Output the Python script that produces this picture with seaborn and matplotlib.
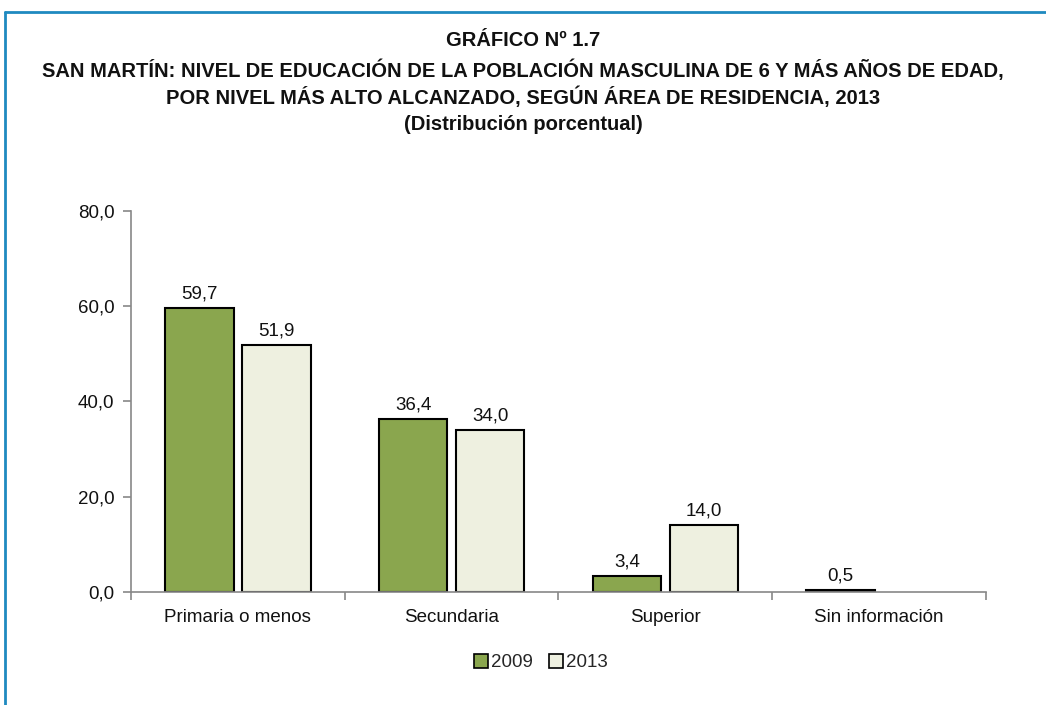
import numpy as np
import pandas as pd
import matplotlib
matplotlib.use("Agg")
import matplotlib.pyplot as plt
import seaborn as sns
from matplotlib import font_manager
from matplotlib.patches import Rectangle
from matplotlib.lines import Line2D

categories = ["Primaria o menos", "Secundaria", "Superior", "Sin información"]
years = ["2009", "2013"]
values_2009 = [59.7, 36.4, 3.4, 0.5]
values_2013 = [51.9, 34.0, 14.0, np.nan]
yticks = [0, 20, 40, 60, 80]

title_lines = [
    "GRÁFICO Nº 1.7",
    "SAN MARTÍN: NIVEL DE EDUCACIÓN DE LA POBLACIÓN MASCULINA DE 6 Y MÁS AÑOS DE EDAD,",
    "POR NIVEL MÁS ALTO ALCANZADO, SEGÚN ÁREA DE RESIDENCIA, 2013",
    "(Distribución porcentual)",
]

sns.set_theme(style="white")
names = {f.name for f in font_manager.fontManager.ttflist}
fam = "Liberation Sans Narrow" if "Liberation Sans Narrow" in names else "Liberation Sans"
plt.rcParams["font.family"] = [fam, "DejaVu Sans"]

df = pd.DataFrame({
    "cat": categories * 2,
    "year": [years[0]] * 4 + [years[1]] * 4,
    "val": values_2009 + values_2013,
})

fig = plt.figure(figsize=(10.46, 7.05), dpi=100)
ax = fig.add_axes([0.1252, 0.1603, 0.8174, 0.5404])

colors = ["#8aa64e", "#eef0e0"]
sns.barplot(data=df, x="cat", y="val", hue="year", order=categories,
            hue_order=years, palette=colors, saturation=1, width=0.72, gap=0.11,
            edgecolor="black", linewidth=1.5, ax=ax, legend=False)

for cont in ax.containers:
    labs = []
    for b in cont:
        h = b.get_height()
        labs.append("" if (h is None or np.isnan(h)) else f"{h:.1f}".replace(".", ","))
    ax.bar_label(cont, labels=labs, padding=4, fontsize=13.5, color="#111111")

ax.set_xlim(-0.5, 3.5)
ax.set_ylim(0, 80)
ax.set_yticks(yticks)
ax.set_yticklabels([f"{v:.1f}".replace(".", ",") for v in yticks], fontsize=13.5, color="#111111")
ax.set_xticks(range(4))
ax.set_xticklabels(categories, fontsize=13.5, color="#111111")
ax.set_xticks([-0.5, 0.5, 1.5, 2.5, 3.5], minor=True)
ax.tick_params(axis="x", which="major", length=0, pad=12, bottom=True)
ax.tick_params(axis="x", which="minor", length=6, color="#888888", width=1.2,
               direction="out", bottom=True)
ax.tick_params(axis="y", length=6, color="#888888", width=1.2, direction="out", left=True, pad=6)
ax.set_xlabel("")
ax.set_ylabel("")
for s in ["top", "right"]:
    ax.spines[s].set_visible(False)
for s in ["left", "bottom"]:
    ax.spines[s].set_color("#888888")
    ax.spines[s].set_linewidth(1.2)

handles = [Rectangle((0, 0), 1, 1, facecolor=c, edgecolor="black", linewidth=1.2) for c in colors]
fig.legend(handles, years, loc="center", bbox_to_anchor=(0.517, 0.06), ncol=2,
           frameon=False, fontsize=13.5, handlelength=0.75, handleheight=0.75,
           handletextpad=0.15, columnspacing=0.9)

ys = [40, 70, 97, 125]
for t, y in zip(title_lines, ys):
    fig.text(0.5, 1 - y / 705, t, ha="center", va="center", fontsize=14.5,
             fontweight="bold", color="#111111")

# frame
fig.add_artist(Line2D([5 / 1046, 1.0], [1 - 12 / 705, 1 - 12 / 705], transform=fig.transFigure,
                      color="#1f8ac0", linewidth=2))
fig.add_artist(Line2D([5 / 1046, 5 / 1046], [0, 1 - 12 / 705], transform=fig.transFigure,
                      color="#1f8ac0", linewidth=2))

fig.savefig("out.png", dpi=100)
